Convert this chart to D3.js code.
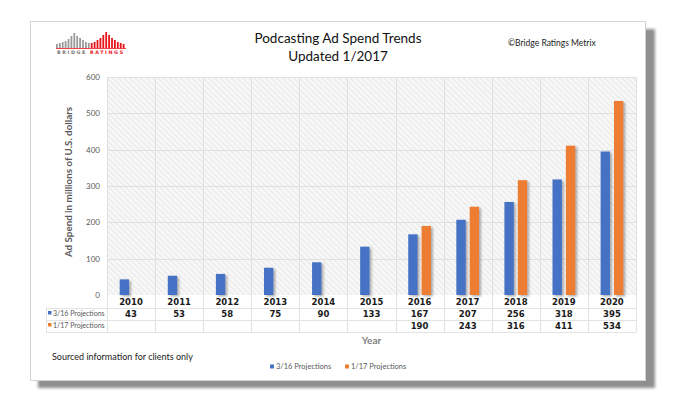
<!DOCTYPE html>
<html>
<head>
<meta charset="utf-8">
<script src="https://cdn.jsdelivr.net/npm/d3@7"></script>
<style>
  body { margin: 0; background: #fff; }
  svg { display: block; }
  text { font-family: Lato, "Open Sans", sans-serif; }
</style>
</head>
<body>
<svg id="chart"></svg>
<script>
// data
const years = ["2010", "2011", "2012", "2013", "2014", "2015", "2016", "2017", "2018", "2019", "2020"];
const proj316 = [43, 53, 58, 75, 90, 133, 167, 207, 256, 318, 395];
const proj117 = [null, null, null, null, null, null, 190, 243, 316, 411, 534];
const yTicks = [0, 100, 200, 300, 400, 500, 600];
const seriesNames = ["3/16 Projections", "1/17 Projections"];
const colors = ["#4472C4", "#ED7D31"];
// logo bar heights (decoration)
const logoGray = [4, 5, 6, 7, 9, 12, 15, 12, 10, 8, 6, 5];
const logoRed = [5, 6, 8, 10, 13, 16, 13, 10, 8, 6, 5, 4];

const W = 678, H = 395;
const margin = {top: 77, left: 107, right: 42, bottom: 100};

const svg = d3.select("#chart").attr("width", W).attr("height", H);

const defs = svg.append("defs");
const hatch = defs.append("pattern")
    .attr("id", "hatch")
    .attr("width", 4).attr("height", 4)
    .attr("patternUnits", "userSpaceOnUse")
    .attr("patternTransform", "rotate(-45)");
hatch.append("rect").attr("width", 4).attr("height", 4).attr("fill", "#f7f7f7");
hatch.append("line").attr("x1", 0).attr("y1", 0).attr("x2", 0).attr("y2", 4)
    .attr("stroke", "#dedede").attr("stroke-width", 1.2);

const shadow = defs.append("filter").attr("id", "shadow")
    .attr("x", "-50%").attr("y", "-10%").attr("width", "200%").attr("height", "130%");
shadow.append("feDropShadow").attr("dx", 2).attr("dy", 1.5).attr("stdDeviation", 1)
    .attr("flood-color", "#555").attr("flood-opacity", 0.45);

const frameShadow = defs.append("filter").attr("id", "frameShadow")
    .attr("x", "-5%").attr("y", "-5%").attr("width", "115%").attr("height", "115%");
frameShadow.append("feGaussianBlur").attr("stdDeviation", 1.5);

// frame with shadow
svg.append("rect")
    .attr("x", 38).attr("y", 29).attr("width", 617).attr("height", 359)
    .attr("fill", "#8f8f8f").attr("filter", "url(#frameShadow)");
svg.append("rect")
    .attr("x", 30.5).attr("y", 21.5).attr("width", 615).attr("height", 359)
    .attr("fill", "#fff").attr("stroke", "#d4d4d4");

// scales
const plotW = W - margin.left - margin.right;
const plotBottom = 295;

const x = d3.scaleBand().domain(years).range([margin.left, margin.left + plotW]);
const bw = x.bandwidth();
const x1 = d3.scaleBand().domain([0, 1]).range([bw * 0.264, bw * 0.736]).paddingInner(0.3);
const y = d3.scaleLinear().domain([0, 600]).range([plotBottom, margin.top]);

// plot background
svg.append("rect")
    .attr("x", margin.left).attr("y", margin.top)
    .attr("width", plotW).attr("height", plotBottom - margin.top)
    .attr("fill", "url(#hatch)");

// gridlines
svg.append("g")
    .selectAll("line")
    .data(yTicks.slice(1))
    .join("line")
    .attr("x1", margin.left).attr("x2", margin.left + plotW)
    .attr("y1", d => Math.round(y(d)) + 0.5).attr("y2", d => Math.round(y(d)) + 0.5)
    .attr("stroke", "#e0e0e0");

svg.append("g")
    .selectAll("line")
    .data(years.concat(["end"]))
    .join("line")
    .attr("x1", (d, i) => Math.round(margin.left + i * bw) + 0.5)
    .attr("x2", (d, i) => Math.round(margin.left + i * bw) + 0.5)
    .attr("y1", margin.top).attr("y2", plotBottom)
    .attr("stroke", "#e0e0e0");

// y axis
const yAxis = d3.axisLeft(y).tickValues(yTicks).tickSize(0).tickPadding(7);
const yAxisG = svg.append("g")
    .attr("transform", `translate(${margin.left},0)`)
    .call(yAxis);
yAxisG.select(".domain").remove();
yAxisG.selectAll("text")
    .style("font-family", "Lato, sans-serif")
    .style("font-size", "8px")
    .attr("fill", "#595959");

svg.append("text")
    .attr("transform", `translate(72,${(margin.top + plotBottom) / 2 - 4}) rotate(-90)`)
    .attr("text-anchor", "middle")
    .style("font-size", "9.8px")
    .style("font-weight", "bold")
    .attr("fill", "#595959")
    .text("Ad Spend in millions of U.S. dollars");

// bars
const series = [proj316, proj117];
const barData = [];
series.forEach((s, si) => {
    s.forEach((v, i) => {
        if (v !== null) barData.push({year: years[i], value: v, s: si});
    });
});

svg.append("g")
    .selectAll("rect")
    .data(barData)
    .join("rect")
    .attr("x", d => x(d.year) + x1(d.s))
    .attr("width", x1.bandwidth())
    .attr("y", d => y(d.value))
    .attr("height", d => plotBottom - y(d.value))
    .attr("fill", d => colors[d.s])
    .attr("filter", "url(#shadow)");

// data table
const rowY = [295, 307.5, 319.5, 332];
const tableLeft = 46;
const table = svg.append("g");

table.selectAll(".hline")
    .data(rowY.slice(1))
    .join("line")
    .attr("x1", tableLeft).attr("x2", margin.left + plotW)
    .attr("y1", d => Math.round(d) + 0.5).attr("y2", d => Math.round(d) + 0.5)
    .attr("stroke", "#e3e3e3");

table.selectAll(".vline")
    .data(years.concat(["end"]))
    .join("line")
    .attr("x1", (d, i) => Math.round(margin.left + i * bw) + 0.5)
    .attr("x2", (d, i) => Math.round(margin.left + i * bw) + 0.5)
    .attr("y1", plotBottom).attr("y2", 332)
    .attr("stroke", "#e3e3e3");

table.append("line")
    .attr("x1", tableLeft + 0.5).attr("x2", tableLeft + 0.5)
    .attr("y1", 307.5).attr("y2", 332)
    .attr("stroke", "#e3e3e3");

const numStyle = sel => sel
    .attr("text-anchor", "middle")
    .style("font-family", "'DejaVu Sans', sans-serif")
    .style("font-weight", "bold")
    .style("font-size", "8.5px")
    .attr("fill", "#1a1a1a");

table.selectAll(".yr")
    .data(years)
    .join("text")
    .attr("x", d => x(d) + bw / 2)
    .attr("y", 305)
    .call(numStyle)
    .text(d => d);

series.forEach((s, si) => {
    table.selectAll(".v" + si)
        .data(s.map((v, i) => ({v, yr: years[i]})).filter(d => d.v !== null))
        .join("text")
        .attr("x", d => x(d.yr) + bw / 2)
        .attr("y", 317 + si * 12)
        .call(numStyle)
        .text(d => d.v);

    table.append("rect")
        .attr("x", 48).attr("y", 311 + si * 12).attr("width", 3.5).attr("height", 3.5)
        .attr("fill", colors[si]);
    table.append("text")
        .attr("x", 53).attr("y", 316 + si * 12)
        .style("font-size", "7px")
        .attr("fill", "#595959")
        .text(seriesNames[si]);
});

svg.append("text")
    .attr("x", margin.left + plotW / 2).attr("y", 344)
    .attr("text-anchor", "middle")
    .style("font-size", "10px")
    .style("font-weight", "bold")
    .attr("fill", "#7f7f7f")
    .text("Year");

// titles
svg.append("text")
    .attr("x", 338).attr("y", 43)
    .attr("text-anchor", "middle")
    .style("font-size", "13.5px")
    .attr("fill", "#111")
    .text("Podcasting Ad Spend Trends");
svg.append("text")
    .attr("x", 338).attr("y", 61)
    .attr("text-anchor", "middle")
    .style("font-size", "13.5px")
    .attr("fill", "#111")
    .text("Updated 1/2017");

svg.append("text")
    .attr("x", 508).attr("y", 46)
    .style("font-size", "8.5px")
    .attr("fill", "#222")
    .text("©Bridge Ratings Metrix");

svg.append("text")
    .attr("x", 52).attr("y", 360)
    .style("font-size", "9px")
    .attr("fill", "#222")
    .text("Sourced information for clients only");

// legend
const legendX = [270, 345];
const legend = svg.append("g");
seriesNames.forEach((n, i) => {
    legend.append("rect")
        .attr("x", legendX[i]).attr("y", 364.5).attr("width", 4).attr("height", 4)
        .attr("fill", colors[i]);
    legend.append("text")
        .attr("x", legendX[i] + 6).attr("y", 369)
        .style("font-size", "7.5px")
        .attr("fill", "#595959")
        .text(n);
});

// logo
const logo = svg.append("g").attr("transform", "translate(56,48)");
const logoAll = logoGray.map(h => ({h, c: "#9a9a9a"})).concat(logoRed.map(h => ({h, c: "#e8141c"})));
logo.selectAll("rect")
    .data(logoAll)
    .join("rect")
    .attr("x", (d, i) => i * 2.9)
    .attr("y", d => -d.h)
    .attr("width", 1.8)
    .attr("height", d => d.h)
    .attr("fill", d => d.c);
logo.append("line")
    .attr("x1", 0).attr("x2", 70).attr("y1", 0.5).attr("y2", 0.5)
    .attr("stroke", "#e8141c").attr("stroke-width", 0.8);
logo.append("text")
    .attr("x", 1).attr("y", 5.5)
    .style("font-family", "'DejaVu Sans', sans-serif")
    .style("font-weight", "bold")
    .style("font-size", "4.8px")
    .style("letter-spacing", "1.6px")
    .attr("fill", "#777")
    .text("BRIDGE");
logo.append("text")
    .attr("x", 34).attr("y", 5.5)
    .style("font-family", "'DejaVu Sans', sans-serif")
    .style("font-weight", "bold")
    .style("font-size", "4.8px")
    .style("letter-spacing", "1.6px")
    .attr("fill", "#e8141c")
    .text("RATINGS");
</script>
</body>
</html>
